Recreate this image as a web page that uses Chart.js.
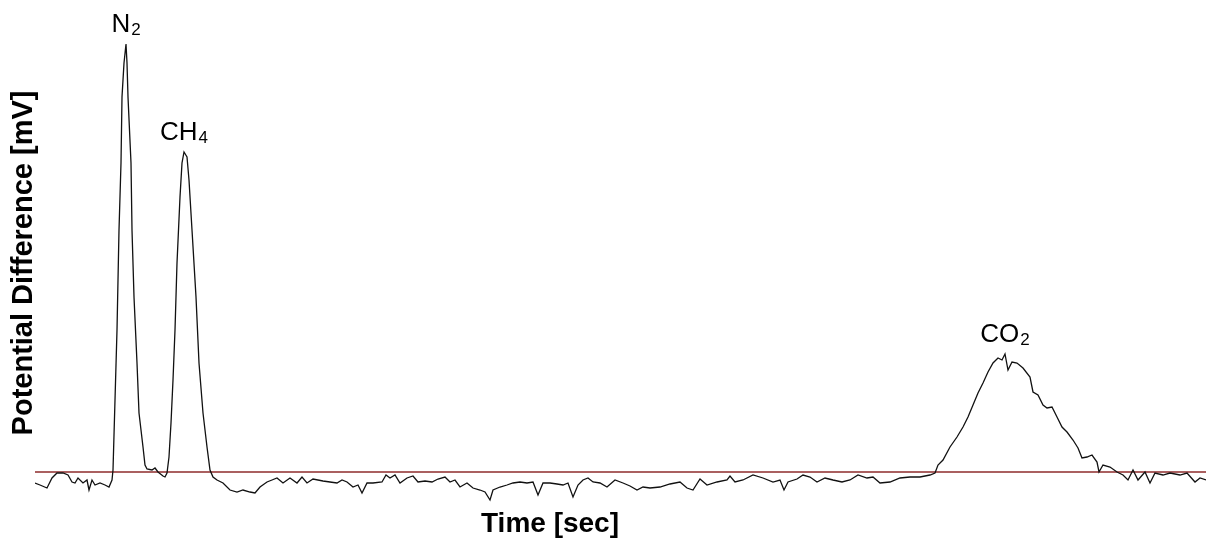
<!DOCTYPE html>
<html>
<head>
<meta charset="utf-8">
<script src="https://cdn.jsdelivr.net/npm/chart.js@4.4.1/dist/chart.umd.min.js"></script>
<style>
  html, body { margin: 0; padding: 0; background: #fff; }
  #wrap { width: 1206px; height: 543px; position: relative; }
</style>
</head>
<body>
<div id="wrap"><canvas id="gcChart"></canvas></div>
<script>
// Detector trace (time, potential difference)
const timeSec = [
  0, 5, 12, 17, 22, 28, 33, 37, 40, 43, 48, 52, 54, 57, 60, 65, 70, 74, 77, 78,
  80, 82, 84, 86, 87, 89, 91, 92, 93, 96, 97, 99, 102, 104, 108, 110, 112, 117, 120, 123,
  128, 130, 132, 134, 136, 138, 140, 142, 145, 147, 149, 152, 154, 157, 161, 164, 168, 172, 175, 178,
  182, 188, 195, 202, 208, 215, 220, 225, 232, 237, 242, 248, 255, 262, 267, 272, 278, 288, 295, 302,
  307, 312, 318, 323, 327, 332, 338, 347, 351, 355, 360, 365, 372, 378, 383, 390, 397, 403, 410, 415,
  420, 425, 432, 438, 445, 450, 455, 458, 465, 472, 478, 485, 492, 498, 503, 508, 515, 522, 528, 533,
  538, 543, 548, 553, 558, 565, 572, 580, 588, 595, 602, 608, 615, 625, 635, 645, 652, 658, 665, 672,
  682, 692, 695, 700, 708, 718, 728, 738, 745, 749, 753, 762, 768, 775, 782, 790, 798, 807, 815, 823,
  832, 838, 845, 855, 865, 875, 885, 895, 900, 903, 908, 915, 922, 928, 933, 938, 943, 948, 953, 958,
  963, 967, 970, 973, 977, 982, 988, 995, 998, 1003, 1008, 1012, 1017, 1022, 1027, 1032, 1038, 1043, 1047, 1052,
  1057, 1062, 1064, 1068, 1075, 1082, 1088, 1093, 1098, 1103, 1110, 1115, 1120, 1128, 1135, 1145, 1152, 1160, 1165, 1171
];
const potentialMv = [
  -11, -13, -16, -6, -1, -1, -3, -10, -11, -6, -11, -8, -18, -8, -13, -11, -13, -15, -8, 2,
  72, 142, 242, 309, 375, 409, 428, 409, 375, 309, 242, 175, 109, 59, 25, 7, 3, 2, 4, 0,
  -4, -5, -1, 15, 49, 92, 142, 209, 275, 309, 320, 315, 292, 242, 175, 109, 59, 25, 2, -5,
  -8, -11, -18, -20, -18, -20, -21, -15, -10, -8, -6, -11, -6, -11, -5, -11, -7, -9, -10, -11,
  -8, -10, -15, -13, -21, -11, -11, -10, -3, -6, -3, -11, -6, -4, -10, -9, -10, -7, -5, -10,
  -8, -15, -11, -16, -18, -20, -28, -18, -15, -13, -11, -10, -11, -10, -23, -11, -11, -12, -13, -11,
  -25, -13, -8, -6, -10, -11, -15, -8, -11, -14, -18, -15, -16, -15, -12, -10, -16, -18, -7, -13,
  -10, -8, -4, -10, -8, -3, -6, -10, -8, -18, -10, -7, -3, -5, -10, -6, -8, -10, -8, -3,
  -6, -5, -11, -10, -6, -5, -5, -3, -1, 7, 12, 25, 35, 45, 55, 67, 79, 89, 100, 109,
  114, 112, 118, 102, 110, 109, 104, 95, 80, 77, 67, 64, 65, 55, 45, 40, 32, 24, 14, 15,
  17, 10, 0, 7, 5, 0, -3, -8, 2, -8, 0, -11, -1, -3, -1, -3, -1, -10, -6, -8
];
// Peak annotations
const peakNames = ['N', 'CH', 'CO'];
const peakSubs = ['2', '4', '2'];
const peakTimes = [91, 149, 970];

const tracePoints = timeSec.map((t, i) => ({ x: t, y: potentialMv[i] }));
const baselinePoints = [{ x: timeSec[0], y: 0 }, { x: timeSec[timeSec.length - 1], y: 0 }];

// Axis titles and peak labels drawn on top of the plot
const labelsPlugin = {
    id: 'gcLabels',
    afterDraw(chart) {
        const ctx = chart.ctx;
        const xs = chart.scales.x, ys = chart.scales.y;
        ctx.save();
        ctx.fillStyle = '#000';
        ctx.textBaseline = 'alphabetic';

        peakTimes.forEach((t, i) => {
            const v = potentialMv[timeSec.indexOf(t)];
            const px = xs.getPixelForValue(t);
            const py = ys.getPixelForValue(v) - 12;
            ctx.font = '26px "Liberation Sans", Arial, sans-serif';
            const w1 = ctx.measureText(peakNames[i]).width;
            ctx.font = '17px "Liberation Sans", Arial, sans-serif';
            const w2 = ctx.measureText(peakSubs[i]).width;
            const left = px - (w1 + w2 + 1) / 2;
            ctx.font = '26px "Liberation Sans", Arial, sans-serif';
            ctx.textAlign = 'left';
            ctx.fillText(peakNames[i], left, py);
            ctx.font = '17px "Liberation Sans", Arial, sans-serif';
            ctx.fillText(peakSubs[i], left + w1 + 1, py + 3);
        });

        ctx.textAlign = 'center';
        ctx.font = 'bold 28px "Liberation Sans", Arial, sans-serif';
        ctx.fillText('Time [sec]', 550, 532);

        ctx.translate(32, 263);
        ctx.rotate(-Math.PI / 2);
        ctx.font = 'bold 29px "Liberation Sans", Arial, sans-serif';
        ctx.fillText('Potential Difference [mV]', 0, 0);
        ctx.restore();
    }
};

document.addEventListener('DOMContentLoaded', () => {
    const ctx = document.getElementById('gcChart').getContext('2d');
    new Chart(ctx, {
        type: 'line',
        data: {
            datasets: [{
                label: 'Baseline',
                data: baselinePoints,
                borderColor: '#8e2b2b',
                borderWidth: 1.5,
                pointRadius: 0,
                order: 2
            }, {
                label: 'Detector signal',
                data: tracePoints,
                borderColor: '#111111',
                borderWidth: 1.3,
                pointRadius: 0,
                tension: 0,
                order: 1
            }]
        },
        options: {
            responsive: true,
            maintainAspectRatio: false,
            animation: false,
            layout: { padding: { left: 35, right: 0, top: 40, bottom: 41 } },
            plugins: {
                legend: { display: false },
                tooltip: { enabled: false }
            },
            scales: {
                x: { type: 'linear', min: 0, max: 1171, display: false },
                y: { min: -30, max: 432, display: false }
            }
        },
        plugins: [labelsPlugin]
    });
});
</script>
</body>
</html>
